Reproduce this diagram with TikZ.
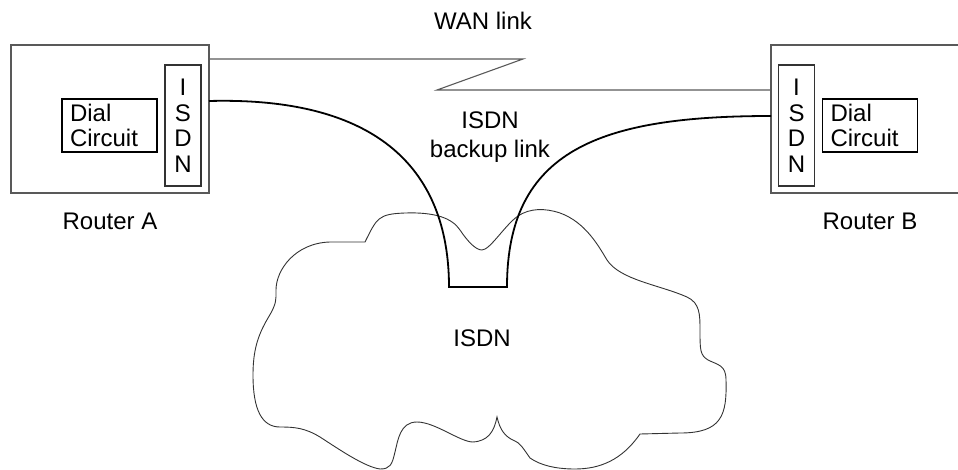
\documentclass[tikz,border=0pt]{standalone}
\usepackage{fontspec}
\setmainfont{Liberation Sans}
\begin{document}
\begin{tikzpicture}[x=1pt,y=-1pt,
  lbl/.style={font=\fontsize{24}{26}\selectfont, inner sep=0pt},
  routerbox/.style={draw=black!65, line width=1.1pt, inner sep=0pt},
  stripbox/.style={draw=black!80, line width=1.1pt, inner sep=0pt, minimum width=36pt, minimum height=121pt,
     font=\fontsize{24}{25.5}\selectfont, align=center},
  dialbox/.style={draw=black, line width=1.4pt, inner sep=0pt, minimum width=95pt, minimum height=53pt,
     text width=79pt, align=left, font=\fontsize{24}{25}\selectfont},
  wan/.style={draw=black!65, line width=1.1pt},
  backup/.style={draw=black, line width=1.8pt},
  cloudline/.style={draw=black!80, line width=0.9pt}]
\useasboundingbox (0,0) rectangle (958,470);

% Router A
\node[routerbox, minimum width=198pt, minimum height=148pt] (routerA) at (110,119) {};
\node[stripbox] (isdnA) at (183,125.5) {I\\S\\D\\N};
\node[dialbox] (dialA) at (109.5,125.5) {Dial\\Circuit};
\node[lbl] (labA) at (110,221) {Router A};

% Router B (right side runs off the picture)
\coordinate (rbTR) at (960,45);
\coordinate (rbTL) at (771,45);
\coordinate (rbBL) at (771,193);
\coordinate (rbBR) at (960,193);
\draw[routerbox] (rbTR) -- (rbTL) -- (rbBL) -- (rbBR);
\node[stripbox] (isdnB) at (796.5,125.5) {I\\S\\D\\N};
\node[dialbox] (dialB) at (870,125.5) {Dial\\Circuit};
\node[lbl] (labB) at (870,221) {Router B};

% WAN link
\coordinate (wanA) at (209,59);
\coordinate (wanK1) at (523,59);
\coordinate (wanK2) at (437,90);
\coordinate (wanB) at (771,90);
\draw[wan] (wanA) -- (wanK1) -- (wanK2) -- (wanB);
\node[lbl] (wanlbl) at (483,21) {WAN link};

% ISDN cloud
\draw[cloudline] (365,242)
  .. controls (377,218) and (378,214) .. (405,213)
  .. controls (435,212) and (452,218) .. (460,230)
  .. controls (468,242) and (476,250) .. (482,250)
  .. controls (490,250) and (505,225) .. (518,216)
  .. controls (530,208) and (545,208) .. (560,213)
  .. controls (585,222) and (598,245) .. (607,260)
  .. controls (620,280) and (660,285) .. (687,297)
  .. controls (700,303) and (700,315) .. (700,330)
  .. controls (700,350) and (700,355) .. (708,360)
  .. controls (718,365) and (726,365) .. (726,380)
  .. controls (727,415) and (722,433) .. (680,433)
  -- (640,434)
  .. controls (622,460) and (600,469) .. (575,469)
  .. controls (555,469) and (540,465) .. (530,458)
  .. controls (523,448) and (520,443) .. (515,441)
  .. controls (505,437) and (500,430) .. (497,417)
  .. controls (494,432) and (488,441) .. (473,442)
  .. controls (460,442) and (435,422) .. (417,422)
  .. controls (400,422) and (398,440) .. (395,452)
  .. controls (392,465) and (390,469) .. (380,469)
  .. controls (365,467) and (340,450) .. (320,437)
  .. controls (305,428) and (295,427) .. (280,427)
  .. controls (262,427) and (253,410) .. (253,375)
  .. controls (253,350) and (258,335) .. (268,318)
  .. controls (277,303) and (276,300) .. (276,290)
  .. controls (276,270) and (295,243) .. (330,242)
  -- cycle;
\node[lbl] (cloudlbl) at (482,338) {ISDN};

% ISDN backup link
\coordinate (bkA) at (209,101);
\coordinate (bkB) at (771,116);
\coordinate (bkL) at (449,287);
\coordinate (bkR) at (507,287);
\draw[backup] (bkA) .. controls (400,96) and (449,190) .. (bkL) -- (bkR)
  .. controls (507,150) and (600,116) .. (bkB);
\node[lbl, align=center, font=\fontsize{24}{29}\selectfont] (bklbl) at (490,137) {ISDN\\backup link};
\end{tikzpicture}
\end{document}
